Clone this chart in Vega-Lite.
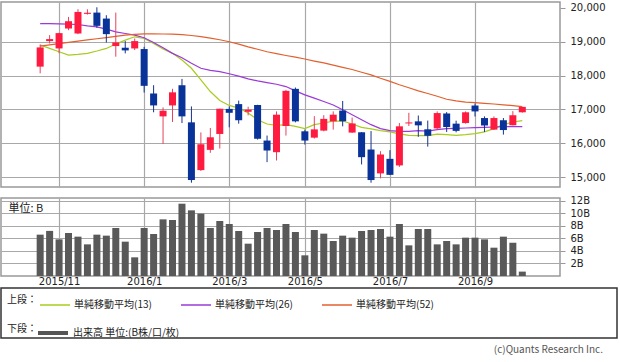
{
  "$schema": "https://vega.github.io/schema/vega-lite/v6.json",
  "padding": {"left": 0, "top": 1, "right": 0, "bottom": 0},
  "background": "white",
  "config": {
    "font": "Noto Sans CJK JP",
    "view": {"stroke": "#999999", "strokeWidth": 1.5},
    "axis": {"labelFont": "DejaVu Sans", "labelColor": "#222222", "labelFontSize": 10, "labelOverlap": false, "gridColor": "#A8A8A8", "gridWidth": 1.2, "tickColor": "#999999", "domain": false, "title": null},
    "axisY": {"orient": "right", "tickSize": 5, "labelPadding": 5, "labelOverlap": false}
  },
  "datasets": {
    "weeks": [
      {"date": "2015-10-19", "open": 18265, "high": 18921, "low": 18068, "close": 18833, "vol": 6.6, "ma13": 18903, "ma26": 19538, "ma52": 18873},
      {"date": "2015-10-26", "open": 19020, "high": 19197, "low": 18950, "close": 19079, "vol": 7.2, "ma13": 18803, "ma26": 19535, "ma52": 18910},
      {"date": "2015-11-02", "open": 18803, "high": 19265, "low": 18660, "close": 19256, "vol": 5.85, "ma13": 18706, "ma26": 19530, "ma52": 18945},
      {"date": "2015-11-09", "open": 19392, "high": 19735, "low": 19343, "close": 19608, "vol": 6.86, "ma13": 18608, "ma26": 19520, "ma52": 18980},
      {"date": "2015-11-16", "open": 19245, "high": 19961, "low": 19226, "close": 19882, "vol": 6.28, "ma13": 18627, "ma26": 19510, "ma52": 19020},
      {"date": "2015-11-23", "open": 19825, "high": 19961, "low": 19804, "close": 19858, "vol": 5.05, "ma13": 18657, "ma26": 19471, "ma52": 19055},
      {"date": "2015-11-30", "open": 19863, "high": 20020, "low": 19412, "close": 19471, "vol": 6.6, "ma13": 18726, "ma26": 19441, "ma52": 19090},
      {"date": "2015-12-07", "open": 19686, "high": 19785, "low": 18980, "close": 19226, "vol": 6.44, "ma13": 18803, "ma26": 19373, "ma52": 19125},
      {"date": "2015-12-14", "open": 18873, "high": 19863, "low": 18559, "close": 18980, "vol": 7.66, "ma13": 18932, "ma26": 19294, "ma52": 19160},
      {"date": "2015-12-21", "open": 18824, "high": 19020, "low": 18657, "close": 18745, "vol": 5.48, "ma13": 19050, "ma26": 19245, "ma52": 19195},
      {"date": "2015-12-28", "open": 18803, "high": 19098, "low": 18755, "close": 19020, "vol": 2.98, "ma13": 19147, "ma26": 19197, "ma52": 19220},
      {"date": "2016-01-04", "open": 18785, "high": 18850, "low": 17500, "close": 17697, "vol": 7.66, "ma13": 19098, "ma26": 19118, "ma52": 19235},
      {"date": "2016-01-11", "open": 17471, "high": 17715, "low": 16915, "close": 17118, "vol": 6.7, "ma13": 18951, "ma26": 18980, "ma52": 19235},
      {"date": "2016-01-18", "open": 16794, "high": 17059, "low": 15980, "close": 16961, "vol": 9.04, "ma13": 18785, "ma26": 18824, "ma52": 19230},
      {"date": "2016-01-25", "open": 17118, "high": 17610, "low": 16627, "close": 17505, "vol": 8.94, "ma13": 18657, "ma26": 18657, "ma52": 19225},
      {"date": "2016-02-01", "open": 17715, "high": 17902, "low": 16597, "close": 16794, "vol": 11.54, "ma13": 18461, "ma26": 18529, "ma52": 19210},
      {"date": "2016-02-08", "open": 16618, "high": 17088, "low": 14833, "close": 14912, "vol": 10.48, "ma13": 18216, "ma26": 18363, "ma52": 19185},
      {"date": "2016-02-15", "open": 15206, "high": 16320, "low": 15180, "close": 15970, "vol": 9.95, "ma13": 17873, "ma26": 18216, "ma52": 19150},
      {"date": "2016-02-22", "open": 15804, "high": 16451, "low": 15716, "close": 16176, "vol": 7.66, "ma13": 17529, "ma26": 18157, "ma52": 19110},
      {"date": "2016-02-29", "open": 16274, "high": 17020, "low": 15843, "close": 17020, "vol": 8.78, "ma13": 17265, "ma26": 18118, "ma52": 19060},
      {"date": "2016-03-07", "open": 17015, "high": 17088, "low": 16471, "close": 16900, "vol": 8.3, "ma13": 17118, "ma26": 18055, "ma52": 19000},
      {"date": "2016-03-14", "open": 17157, "high": 17260, "low": 16579, "close": 16680, "vol": 7.18, "ma13": 17040, "ma26": 17985, "ma52": 18930},
      {"date": "2016-03-21", "open": 16930, "high": 17080, "low": 16824, "close": 16990, "vol": 5.16, "ma13": 16892, "ma26": 17902, "ma52": 18850},
      {"date": "2016-03-28", "open": 17130, "high": 17137, "low": 16109, "close": 16130, "vol": 7.02, "ma13": 16696, "ma26": 17843, "ma52": 18780},
      {"date": "2016-04-04", "open": 16079, "high": 16226, "low": 15441, "close": 15785, "vol": 7.66, "ma13": 16568, "ma26": 17794, "ma52": 18706},
      {"date": "2016-04-11", "open": 15735, "high": 16941, "low": 15490, "close": 16844, "vol": 7.34, "ma13": 16530, "ma26": 17745, "ma52": 18650},
      {"date": "2016-04-18", "open": 16510, "high": 17579, "low": 16226, "close": 17549, "vol": 8.3, "ma13": 16549, "ma26": 17676, "ma52": 18595},
      {"date": "2016-04-25", "open": 17608, "high": 17647, "low": 16618, "close": 16647, "vol": 7.02, "ma13": 16500, "ma26": 17549, "ma52": 18545},
      {"date": "2016-05-02", "open": 16353, "high": 16402, "low": 15961, "close": 16079, "vol": 3.3, "ma13": 16432, "ma26": 17431, "ma52": 18490},
      {"date": "2016-05-09", "open": 16165, "high": 16800, "low": 16138, "close": 16410, "vol": 7.34, "ma13": 16549, "ma26": 17333, "ma52": 18430},
      {"date": "2016-05-16", "open": 16373, "high": 16830, "low": 16353, "close": 16720, "vol": 6.76, "ma13": 16598, "ma26": 17235, "ma52": 18375},
      {"date": "2016-05-23", "open": 16647, "high": 16941, "low": 16402, "close": 16844, "vol": 5.59, "ma13": 16655, "ma26": 17130, "ma52": 18310},
      {"date": "2016-05-30", "open": 16965, "high": 17250, "low": 16500, "close": 16650, "vol": 6.44, "ma13": 16657, "ma26": 16990, "ma52": 18245},
      {"date": "2016-06-06", "open": 16315, "high": 16760, "low": 16304, "close": 16585, "vol": 6.12, "ma13": 16568, "ma26": 16844, "ma52": 18180},
      {"date": "2016-06-13", "open": 16324, "high": 16330, "low": 15373, "close": 15588, "vol": 7.18, "ma13": 16471, "ma26": 16696, "ma52": 18100},
      {"date": "2016-06-20", "open": 15814, "high": 16360, "low": 14833, "close": 14912, "vol": 7.34, "ma13": 16422, "ma26": 16549, "ma52": 18020},
      {"date": "2016-06-27", "open": 15108, "high": 15765, "low": 14962, "close": 15667, "vol": 7.5, "ma13": 16373, "ma26": 16432, "ma52": 17920},
      {"date": "2016-07-04", "open": 15539, "high": 15794, "low": 15059, "close": 15065, "vol": 6.28, "ma13": 16334, "ma26": 16373, "ma52": 17830},
      {"date": "2016-07-11", "open": 15344, "high": 16597, "low": 15300, "close": 16500, "vol": 8.3, "ma13": 16275, "ma26": 16353, "ma52": 17730},
      {"date": "2016-07-18", "open": 16585, "high": 16900, "low": 16510, "close": 16615, "vol": 4.89, "ma13": 16235, "ma26": 16353, "ma52": 17640},
      {"date": "2016-07-25", "open": 16647, "high": 16820, "low": 16190, "close": 16529, "vol": 7.5, "ma13": 16226, "ma26": 16373, "ma52": 17550},
      {"date": "2016-08-01", "open": 16412, "high": 16670, "low": 15900, "close": 16220, "vol": 7.5, "ma13": 16226, "ma26": 16360, "ma52": 17470},
      {"date": "2016-08-08", "open": 16440, "high": 16941, "low": 16402, "close": 16892, "vol": 5.05, "ma13": 16270, "ma26": 16400, "ma52": 17390},
      {"date": "2016-08-15", "open": 16880, "high": 16921, "low": 16333, "close": 16480, "vol": 5.59, "ma13": 16255, "ma26": 16432, "ma52": 17300},
      {"date": "2016-08-22", "open": 16579, "high": 16667, "low": 16324, "close": 16365, "vol": 5.05, "ma13": 16235, "ma26": 16440, "ma52": 17250},
      {"date": "2016-08-29", "open": 16597, "high": 16941, "low": 16579, "close": 16915, "vol": 6.12, "ma13": 16255, "ma26": 16451, "ma52": 17216},
      {"date": "2016-09-05", "open": 17115, "high": 17175, "low": 16790, "close": 16941, "vol": 6.12, "ma13": 16284, "ma26": 16460, "ma52": 17200},
      {"date": "2016-09-12", "open": 16745, "high": 16794, "low": 16333, "close": 16525, "vol": 5.85, "ma13": 16334, "ma26": 16471, "ma52": 17177},
      {"date": "2016-09-19", "open": 16402, "high": 16794, "low": 16390, "close": 16745, "vol": 4.52, "ma13": 16432, "ma26": 16480, "ma52": 17160},
      {"date": "2016-09-26", "open": 16680, "high": 16745, "low": 16255, "close": 16390, "vol": 6.28, "ma13": 16549, "ma26": 16490, "ma52": 17137},
      {"date": "2016-10-03", "open": 16535, "high": 16950, "low": 16529, "close": 16830, "vol": 5.32, "ma13": 16627, "ma26": 16490, "ma52": 17110},
      {"date": "2016-10-10", "open": 16915, "high": 17070, "low": 16905, "close": 17075, "vol": 0.7, "ma13": 16667, "ma26": 16490, "ma52": 17080}
    ],
    "maItems": [{"series": "単純移動平均(13)"}, {"series": "単純移動平均(26)"}, {"series": "単純移動平均(52)"}],
    "volItems": [{"item": "出来高 単位:(B株/口/枚)"}]
  },
  "resolve": {"scale": {"color": "independent", "stroke": "independent"}, "legend": {"color": "independent", "stroke": "independent"}},
  "spacing": 0,
  "vconcat": [
    {
      "spacing": 11,
      "bounds": "flush",
      "vconcat": [
        {
          "width": 559,
          "height": 185,
          "data": {"name": "weeks"},
          "encoding": {
            "x": {
              "field": "date", "type": "temporal",
              "scale": {"type": "utc", "nice": false, "padding": 0, "domain": [{"year": 2015, "month": 9, "date": 20, "utc": true}, {"year": 2016, "month": 11, "date": 6, "hours": 22, "utc": true}]},
              "axis": {"values": [{"year": 2015, "month": 11, "date": 2, "utc": true}, {"year": 2016, "month": 1, "date": 4, "utc": true}, {"year": 2016, "month": 3, "date": 7, "utc": true}, {"year": 2016, "month": 5, "date": 2, "utc": true}, {"year": 2016, "month": 7, "date": 4, "utc": true}, {"year": 2016, "month": 9, "date": 5, "utc": true}], "labels": false, "ticks": false, "grid": true}
            }
          },
          "layer": [
            {
              "mark": {"type": "line", "color": "#A8CC1E", "strokeWidth": 1.2, "interpolate": "linear"},
              "encoding": {"y": {"field": "ma13", "type": "quantitative", "scale": {"domain": [14706, 20176], "nice": false, "zero": false}, "axis": {"values": [15000, 16000, 17000, 18000, 19000, 20000], "labelExpr": "format(datum.value, ',d')", "grid": true, "gridOpacity": {"condition": {"test": "datum.value >= 20000", "value": 0}, "value": 1}}}}
            },
            {
              "mark": {"type": "line", "color": "#9A3AD8", "strokeWidth": 1.2},
              "encoding": {"y": {"field": "ma26", "type": "quantitative", "axis": {"values": [15000, 16000, 17000, 18000, 19000, 20000], "labelExpr": "format(datum.value, ',d')", "grid": true, "gridOpacity": {"condition": {"test": "datum.value >= 20000", "value": 0}, "value": 1}}}}
            },
            {
              "mark": {"type": "line", "color": "#E2602E", "strokeWidth": 1.2},
              "encoding": {"y": {"field": "ma52", "type": "quantitative", "axis": {"values": [15000, 16000, 17000, 18000, 19000, 20000], "labelExpr": "format(datum.value, ',d')", "grid": true, "gridOpacity": {"condition": {"test": "datum.value >= 20000", "value": 0}, "value": 1}}}}
            },
            {
              "mark": {"type": "rule", "strokeWidth": 1},
              "encoding": {
                "y": {"field": "low", "type": "quantitative", "axis": {"values": [15000, 16000, 17000, 18000, 19000, 20000], "labelExpr": "format(datum.value, ',d')", "grid": true, "gridOpacity": {"condition": {"test": "datum.value >= 20000", "value": 0}, "value": 1}}},
                "y2": {"field": "high"},
                "color": {"condition": {"test": "datum.close >= datum.open", "value": "#E8405E"}, "value": "#14338C"}
              }
            },
            {
              "mark": {"type": "bar", "width": 7},
              "encoding": {
                "y": {"field": "open", "type": "quantitative", "axis": {"values": [15000, 16000, 17000, 18000, 19000, 20000], "labelExpr": "format(datum.value, ',d')", "grid": true, "gridOpacity": {"condition": {"test": "datum.value >= 20000", "value": 0}, "value": 1}}},
                "y2": {"field": "close"},
                "color": {"condition": {"test": "datum.close >= datum.open", "value": "#FF1A40"}, "value": "#0A3399"}
              }
            }
          ]
        },
        {
          "width": 559,
          "height": 78,
          "data": {"name": "weeks"},
          "mark": {"type": "bar", "width": 7, "color": "#595959"},
          "encoding": {
            "x": {
              "field": "date", "type": "temporal",
              "scale": {"type": "utc", "nice": false, "padding": 0, "domain": [{"year": 2015, "month": 9, "date": 20, "utc": true}, {"year": 2016, "month": 11, "date": 6, "hours": 22, "utc": true}]},
              "axis": {"values": [{"year": 2015, "month": 11, "date": 2, "utc": true}, {"year": 2016, "month": 1, "date": 4, "utc": true}, {"year": 2016, "month": 3, "date": 7, "utc": true}, {"year": 2016, "month": 5, "date": 2, "utc": true}, {"year": 2016, "month": 7, "date": 4, "utc": true}, {"year": 2016, "month": 9, "date": 5, "utc": true}], "labelExpr": "utcFormat(datum.value, '%Y/%-m')", "ticks": false, "labelPadding": 0, "grid": true}
            },
            "y": {
              "field": "vol", "type": "quantitative",
              "scale": {"domain": [0, 12.45], "nice": false},
              "axis": {"values": [2, 4, 6, 8, 10, 12], "labelExpr": "datum.value + 'B'", "grid": true, "title": "単位: B", "titleFont": "Noto Sans CJK JP", "titleAngle": 0, "titleX": -552, "titleY": 10, "titleAlign": "left", "titleBaseline": "middle", "titleFontSize": 11, "titleFontWeight": "normal", "titleColor": "#222222"}
            }
          }
        }
      ]
    },
    {
      "width": 616,
      "height": 50,
      "view": {"stroke": "#333333", "strokeWidth": 1.5},
      "title": {"text": "(c)Quants Research Inc.", "orient": "bottom", "anchor": "end", "fontSize": 10, "fontWeight": "normal", "color": "#555555", "offset": 4, "dx": -14},
      "layer": [
        {
          "data": {"name": "maItems"},
          "transform": [{"filter": "false"}],
          "mark": {"type": "rule"},
          "encoding": {
            "color": {
              "field": "series", "type": "nominal",
              "scale": {"domain": ["単純移動平均(13)", "単純移動平均(26)", "単純移動平均(52)"], "range": ["#A8CC1E", "#9A3AD8", "#E2602E"]},
              "legend": {"orient": "none", "legendX": 6, "legendY": 1, "direction": "horizontal", "title": "上段：", "titleOrient": "left", "titleFontSize": 10, "titleFontWeight": "normal", "titleColor": "#222222", "titlePadding": 2, "symbolType": "stroke", "symbolSize": 900, "symbolStrokeWidth": 1.5, "labelFontSize": 10, "labelColor": "#222222", "labelOffset": 3, "columnPadding": 26, "labelLimit": 300}
            }
          }
        },
        {
          "data": {"name": "volItems"},
          "transform": [{"filter": "false"}],
          "mark": {"type": "rule"},
          "encoding": {
            "stroke": {
              "field": "item", "type": "nominal",
              "scale": {"domain": ["出来高 単位:(B株/口/枚)"], "range": ["#555555"]},
              "legend": {"orient": "none", "legendX": 6, "legendY": 28, "direction": "horizontal", "title": "下段：", "titleOrient": "left", "titleFontSize": 10, "titleFontWeight": "normal", "titleColor": "#222222", "titlePadding": -1, "symbolType": "stroke", "symbolSize": 900, "symbolStrokeWidth": 4, "labelFontSize": 10, "labelColor": "#222222", "labelOffset": 3, "labelLimit": 300}
            }
          }
        }
      ]
    }
  ]
}
